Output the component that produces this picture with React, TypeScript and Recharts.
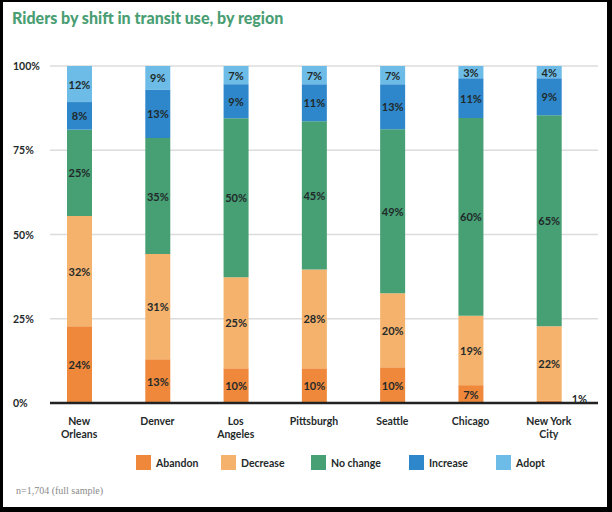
import React from "react";
import {
  BarChart,
  Bar,
  XAxis,
  YAxis,
  CartesianGrid,
  LabelList,
} from "recharts";

const regions = ["New Orleans", "Denver", "Los Angeles", "Pittsburgh", "Seattle", "Chicago", "New York City"];
const regionLines = [["New", "Orleans"], ["Denver"], ["Los", "Angeles"], ["Pittsburgh"], ["Seattle"], ["Chicago"], ["New York", "City"]];

// segment heights as drawn (share of riders, %)
const abandon = [22.8, 13.0, 10.3, 10.3, 10.6, 5.3, 0.7];
const decrease = [32.7, 31.2, 27.0, 29.3, 22.0, 20.6, 22.1];
const noChange = [25.6, 34.4, 47.2, 44.0, 48.6, 58.7, 62.6];
const increase = [8.2, 14.4, 10.1, 11.0, 13.4, 11.8, 11.0];
const adopt = [10.7, 7.0, 5.4, 5.4, 5.4, 3.6, 3.6];

// printed labels
const abandonLabel = [24, 13, 10, 10, 10, 7, 1];
const decreaseLabel = [32, 31, 25, 28, 20, 19, 22];
const noChangeLabel = [25, 35, 50, 45, 49, 60, 65];
const increaseLabel = [8, 13, 9, 11, 13, 11, 9];
const adoptLabel = [12, 9, 7, 7, 7, 3, 4];

const yTicks = [0, 0.25, 0.5, 0.75, 1];

const SERIES = [
  { key: "abandon", name: "Abandon", color: "#EF883A", labels: abandonLabel },
  { key: "decrease", name: "Decrease", color: "#F5B26C", labels: decreaseLabel },
  { key: "noChange", name: "No change", color: "#479F74", labels: noChangeLabel },
  { key: "increase", name: "Increase", color: "#2F87CB", labels: increaseLabel },
  { key: "adopt", name: "Adopt", color: "#6CBCE7", labels: adoptLabel },
];

const data = regions.map((r, i) => ({
  region: r,
  abandon: abandon[i],
  decrease: decrease[i],
  noChange: noChange[i],
  increase: increase[i],
  adopt: adopt[i],
}));

const FONT = "Lato, 'Noto Sans', sans-serif";
const INK = "#1f2a2a";

function SegmentLabel(props: any) {
  const { x, y, width, height, index, labels } = props;
  const value = labels[index];
  if (value == null) return null;
  const small = Number(height) < 5;
  const cx = small ? x + width + 10 : x + width / 2;
  const cy = small ? y + height - 5 : y + height / 2;
  return (
    <text
      x={cx}
      y={cy}
      textAnchor={small ? "start" : "middle"}
      dominantBaseline="central"
      fontFamily={FONT}
      fontSize={11}
      fontWeight={700}
      fill={INK}
    >
      {`${value}%`}
    </text>
  );
}

function YTick(props: any) {
  const { y, payload } = props;
  return (
    <text x={13} y={y} dominantBaseline="central" fontFamily={FONT} fontSize={10.5} fontWeight={700} fill={INK}>
      {`${Math.round(payload.value * 100)}%`}
    </text>
  );
}

function XTick(props: any) {
  const { x, y, index } = props;
  const lines = regionLines[index] || [];
  return (
    <text x={x} y={y} textAnchor="middle" fontFamily={FONT} fontSize={10.5} fontWeight={700} fill={INK}>
      {lines.map((l, i) => (
        <tspan key={i} x={x} dy={i === 0 ? 14 : 13}>
          {l}
        </tspan>
      ))}
    </text>
  );
}

export default function App() {
  return (
    <div style={{ position: "fixed", left: 0, top: 0, width: 612, height: 512, background: "#000" }}>
      <div style={{ position: "absolute", left: 3, top: 2, width: 604, height: 505, background: "#fff" }} />
      <div
        style={{
          position: "absolute",
          left: 12,
          top: 8,
          fontFamily: FONT,
          fontWeight: 900,
          fontSize: 16,
          color: "#4A9E73",
        }}
      >
        Riders by shift in transit use, by region
      </div>
      <div style={{ position: "absolute", left: 0, top: 0 }}>
        <BarChart
          width={612}
          height={445}
          data={data}
          stackOffset="expand"
          barSize={25}
          margin={{ top: 66, right: 14, left: 13, bottom: 0 }}
        >
          <CartesianGrid vertical={false} stroke="#dcdcdc" strokeWidth={1.5} />
          <XAxis
            dataKey="region"
            height={42}
            padding={{ left: -10, right: 10 }}
            axisLine={{ stroke: "#222", strokeWidth: 2.5 }}
            tickLine={false}
            interval={0}
            tick={<XTick />}
          />
          <YAxis
            width={37}
            domain={[0, 1]}
            ticks={yTicks}
            axisLine={false}
            tickLine={false}
            tick={<YTick />}
          />
          {SERIES.map((s) => (
            <Bar key={s.key} dataKey={s.key} name={s.name} stackId="a" fill={s.color} isAnimationActive={false}>
              <LabelList dataKey={s.key} content={<SegmentLabel labels={s.labels} />} />
            </Bar>
          ))}
        </BarChart>
      </div>
      <div style={{ position: "absolute", left: 0, top: 455, width: 612, height: 16 }}>
        {SERIES.map((s, i) => {
          const lefts = [136, 221, 311, 409, 496];
          return (
            <div key={s.key} style={{ position: "absolute", left: lefts[i], top: 0, display: "flex", alignItems: "center" }}>
              <div style={{ width: 15, height: 15, background: s.color }} />
              <span style={{ marginLeft: 5, fontFamily: FONT, fontSize: 10.5, fontWeight: 700, color: INK }}>{s.name}</span>
            </div>
          );
        })}
      </div>
      <div
        style={{
          position: "absolute",
          left: 16,
          top: 485,
          fontFamily: "'Liberation Serif', 'DejaVu Serif', serif",
          fontSize: 10,
          color: "#8a8a8a",
        }}
      >
        n=1,704 (full sample)
      </div>
    </div>
  );
}
